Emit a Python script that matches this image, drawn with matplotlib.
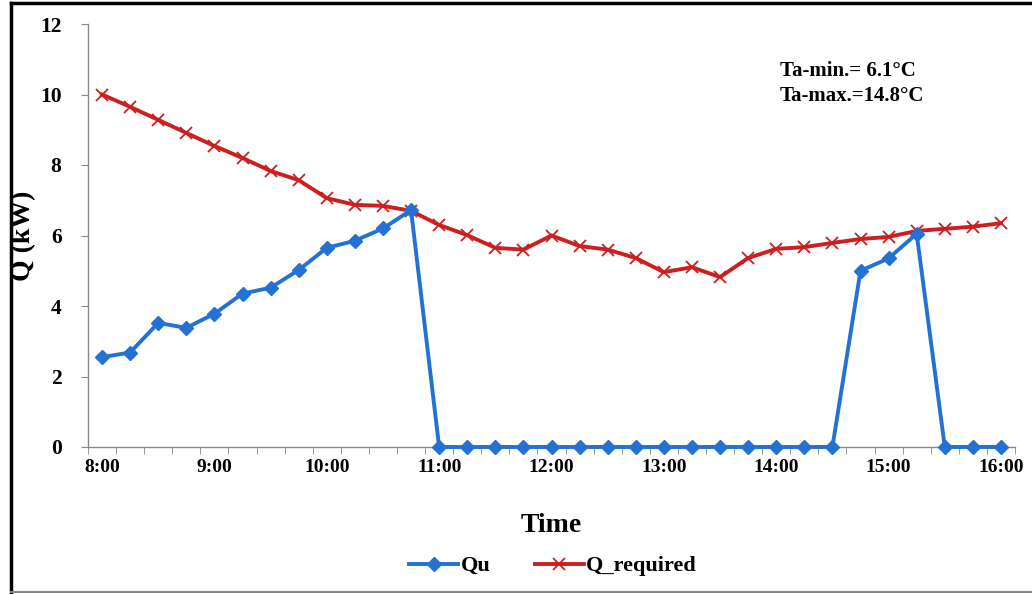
import matplotlib
matplotlib.use("Agg")
import matplotlib.pyplot as plt
from matplotlib.lines import Line2D
import numpy as np

# Time in hours (15-minute steps from 8:00 to 16:00)
hours = [8 + 0.25 * i for i in range(33)]
qu = [2.55, 2.68, 3.52, 3.38, 3.78, 4.35, 4.52, 5.02, 5.65, 5.85, 6.20, 6.72,
      0, 0, 0, 0, 0, 0, 0, 0, 0, 0, 0, 0, 0, 0, 0,
      5.00, 5.35, 6.05, 0, 0, 0]
q_required = [10.0, 9.65, 9.28, 8.91, 8.54, 8.20, 7.83, 7.57, 7.06, 6.87, 6.84, 6.70,
              6.30, 6.01, 5.65, 5.60, 6.00, 5.70, 5.60, 5.36, 4.96, 5.10, 4.82,
              5.36, 5.62, 5.67, 5.79, 5.90, 5.96, 6.13, 6.19, 6.25, 6.35]
xtick_vals = [8, 9, 10, 11, 12, 13, 14, 15, 16]
xtick_labels = ["8:00", "9:00", "10:00", "11:00", "12:00", "13:00", "14:00", "15:00", "16:00"]
ytick_vals = [0, 2, 4, 6, 8, 10, 12]

plt.rcParams['font.family'] = ['Liberation Serif', 'DejaVu Serif']
plt.rcParams['font.weight'] = 'bold'

W, H = 1032, 594
fig = plt.figure(figsize=(W / 100, H / 100), dpi=100)
ax = fig.add_axes([88 / W, 1 - 447 / H, (1015 - 88) / W, (447 - 24) / H])

blue = '#2271D3'
red = '#CC1F1F'
ax.plot(hours, qu, color=blue, lw=2.8, marker='D', ms=7, mfc=blue, mec=blue,
        label='Qu', zorder=3, clip_on=False)
ax.plot(hours, q_required, color=red, lw=2.8, marker='x', ms=8, mew=1.3,
        mec=red, label='Q_required', zorder=2, clip_on=False)

ax.set_xlim(8 - 0.125, 16 + 0.125)
ax.set_ylim(0, 12)
ax.set_xticks(xtick_vals)
ax.set_xticklabels(xtick_labels)
# Tick marks sit on category boundaries (between points)
ax.set_xticks([h - 0.125 for h in hours] + [hours[-1] + 0.125], minor=True)
ax.set_yticks(ytick_vals)

for s in ['top', 'right']:
    ax.spines[s].set_visible(False)
for s in ['left', 'bottom']:
    ax.spines[s].set_color('#888888')
    ax.spines[s].set_linewidth(1.0)
ax.tick_params(axis='x', which='major', length=0, pad=9, labelsize=14)
ax.tick_params(axis='x', which='minor', direction='out', length=5,
               color='#888888')
ax.tick_params(axis='y', direction='out', length=5, color='#888888',
               pad=14, labelsize=15.5)
for lab in ax.get_xticklabels() + ax.get_yticklabels():
    lab.set_fontweight('bold')

ax.set_xlabel('Time', fontsize=20, fontweight='bold', labelpad=26)
ax.set_ylabel('Q (kW)', fontsize=20, fontweight='bold')
ax.yaxis.set_label_coords((36 - 88) / (1015 - 88), 0.5)

ax.text(780 / W, 1 - 71 / H, 'Ta-min.= 6.1°C', transform=fig.transFigure,
        fontsize=15, fontweight='bold', va='center', ha='left')
ax.text(780 / W, 1 - 96 / H, 'Ta-max.=14.8°C', transform=fig.transFigure,
        fontsize=15, fontweight='bold', va='center', ha='left')

handles = [Line2D([], [], color=blue, lw=2.8, marker='D', ms=7),
           Line2D([], [], color=red, lw=2.8, marker='x', ms=8, mew=1.3)]
fig.legend(handles, ['Qu', 'Q_required'], loc='center', ncol=2,
           bbox_to_anchor=(553 / W, 1 - 566 / H), frameon=False,
           prop={'weight': 'bold', 'size': 16}, handlelength=2.2,
           handletextpad=0.1, columnspacing=2.0)

# Outer frame
fig.add_artist(Line2D([11 / W, 11 / W], [1 - 3 / H, 1 - 592 / H],
                      transform=fig.transFigure, color='black', lw=2.5))
fig.add_artist(Line2D([11 / W, 1.0], [1 - 3 / H, 1 - 3 / H],
                      transform=fig.transFigure, color='black', lw=2.5))
fig.add_artist(Line2D([11 / W, 1.0], [1 - 592 / H, 1 - 592 / H],
                      transform=fig.transFigure, color='#888888', lw=1.5))

fig.savefig('out.png', dpi=100)
